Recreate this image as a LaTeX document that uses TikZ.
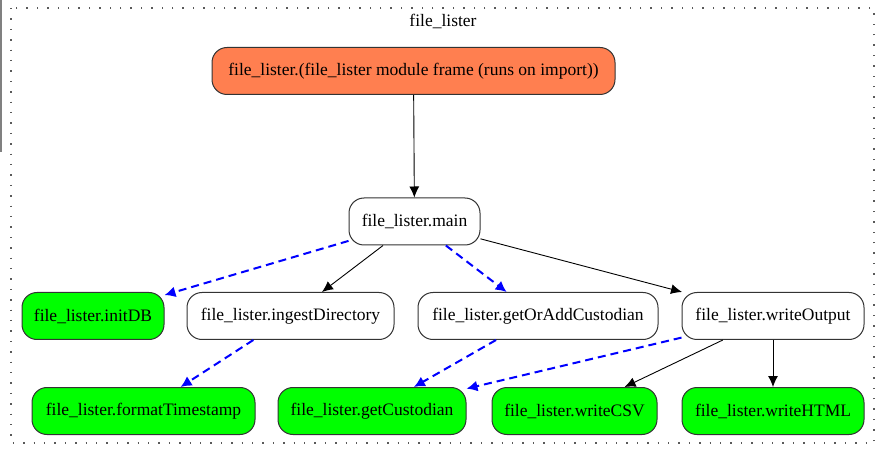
\documentclass[tikz,border=0pt]{standalone}
\usepackage{fontspec}
\setmainfont{Liberation Serif}
\usetikzlibrary{arrows.meta}
\definecolor{coralfill}{HTML}{FF7F50}
\definecolor{leaf}{HTML}{00FF00}
\definecolor{edgegray}{HTML}{333333}
\tikzset{
  label font/.style={font=\fontsize{17.5pt}{20pt}\selectfont},
  fn/.style={draw=edgegray, line width=1pt, rounded corners=15pt,
    minimum height=47pt, inner sep=0pt, fill=white, label font},
  rootfn/.style={fn, fill=coralfill},
  leaffn/.style={fn, fill=leaf},
  call/.style={draw=black, line width=0.9pt,
    -{Latex[length=11pt,width=10pt]}},
  usecall/.style={draw=blue, line width=2pt, dash pattern=on 8pt off 5pt,
    -{Latex[length=11pt,width=11pt]}},
}
\begin{document}
\begin{tikzpicture}[x=1pt,y=-1pt]
\useasboundingbox (0,0) rectangle (879,449);
\fill[white] (0,0) rectangle (879,449);
% stray rule at the left margin
\draw[gray, line width=1.2pt] (1,0) -- (1,152);
% module cluster
\draw[gray!70!black, line width=1.4pt, dash pattern=on 1.4pt off 9pt]
  (11,8) rectangle (874,443);
\node[label font] (title) at (443,21) {file\_lister};

% functions
\node[rootfn, minimum width=403pt] (frame) at (413.5,71) {file\_lister.(file\_lister module frame (runs on import))};
\node[fn, minimum width=131pt] (main) at (414.5,221.5) {file\_lister.main};
\node[leaffn, minimum width=142pt] (initdb) at (93,316) {file\_lister.initDB};
\node[fn, minimum width=207pt] (ingest) at (290.5,316) {file\_lister.ingestDirectory};
\node[fn, minimum width=240pt] (getoradd) at (538,316) {file\_lister.getOrAddCustodian};
\node[fn, minimum width=182pt] (writeout) at (773,316) {file\_lister.writeOutput};
\node[leaffn, minimum width=223pt] (fmtts) at (143.5,411) {file\_lister.formatTimestamp};
\node[leaffn, minimum width=188pt] (getcust) at (372,411) {file\_lister.getCustodian};
\node[leaffn, minimum width=165pt] (writecsv) at (574.5,411) {file\_lister.writeCSV};
\node[leaffn, minimum width=182pt] (writehtml) at (773,411) {file\_lister.writeHTML};

% calls
\draw[call] (frame) -- (main);
\draw[usecall] (main) -- (initdb);
\draw[call] (main) -- (ingest);
\draw[usecall] (main) -- (getoradd);
\draw[call] (main) -- (writeout);
\draw[usecall] (ingest) -- (fmtts);
\draw[usecall] (getoradd) -- (getcust);
\draw[usecall] (writeout) -- (getcust);
\draw[call] (writeout) -- (writecsv);
\draw[call] (writeout) -- (writehtml);
\end{tikzpicture}
\end{document}
